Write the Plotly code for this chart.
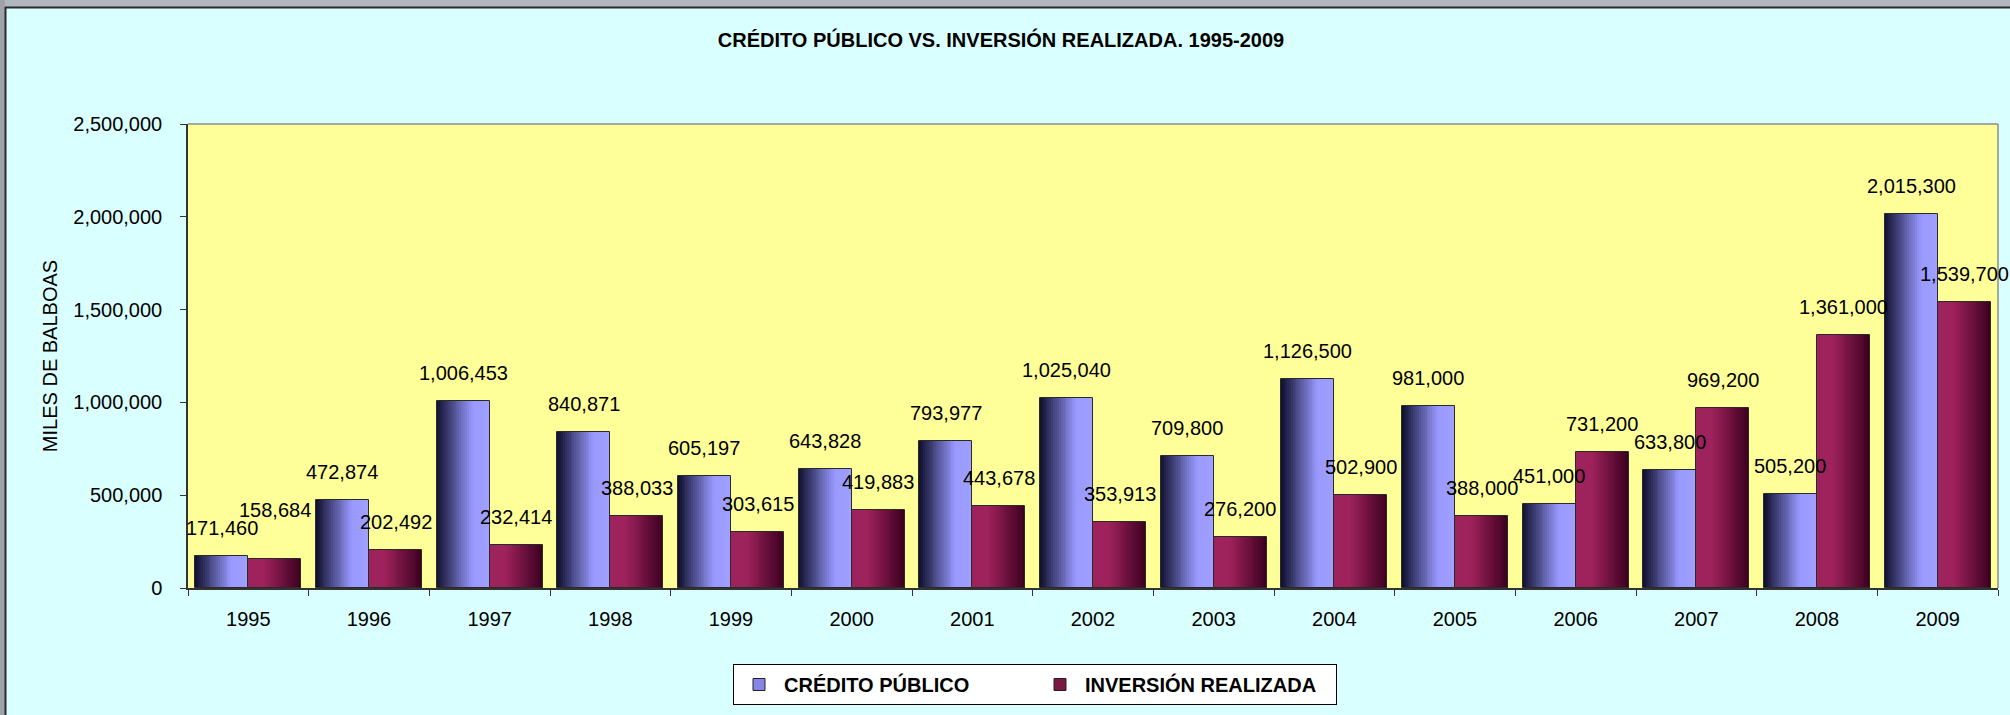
import plotly.graph_objects as go

# ---------------- data ----------------
years = ["1995", "1996", "1997", "1998", "1999", "2000", "2001", "2002",
         "2003", "2004", "2005", "2006", "2007", "2008", "2009"]
credito_publico = [171460, 472874, 1006453, 840871, 605197, 643828, 793977, 1025040,
                   709800, 1126500, 981000, 451000, 633800, 505200, 2015300]
inversion_realizada = [158684, 202492, 232414, 388033, 303615, 419883, 443678, 353913,
                       276200, 502900, 388000, 731200, 969200, 1361000, 1539700]
series_names = ["CRÉDITO PÚBLICO", "INVERSIÓN REALIZADA"]
y_ticks = [0, 500000, 1000000, 1500000, 2000000, 2500000]

# ---------------- geometry / style ----------------
W, H = 2010, 715
ML, MR, MT, MB = 188, 12, 124, 127
PW, PH = W - ML - MR, H - MT - MB

def px2x(px):
    return (px - ML) / PW

def py2y(py):
    return (H - MB - py) / PH

FONT = "Liberation Sans, Arial, sans-serif"
BAR_W = 0.44
N_SLICES = 28

def lerp(c1, c2, t):
    return tuple(round(a + (b - a) * t) for a, b in zip(c1, c2))

def blue_grad(t):
    dark, light = (14, 14, 44), (153, 153, 255)
    if t < 0.68:
        return lerp(dark, light, t / 0.68)
    return lerp(light, (160, 160, 255), (t - 0.68) / 0.32)

def red_grad(t):
    left, right = (158, 34, 92), (58, 0, 30)
    if t < 0.3:
        return left
    return lerp(left, right, (t - 0.3) / 0.7)

def rgb(c):
    return "rgb(%d,%d,%d)" % c

fig = go.Figure()

specs = [
    (credito_publico, -BAR_W, blue_grad),
    (inversion_realizada, 0.0, red_grad),
]

for values, start, grad in specs:
    for i in range(N_SLICES):
        t = (i + 0.5) / N_SLICES
        off = start + BAR_W * i / N_SLICES
        wid = BAR_W - BAR_W * i / N_SLICES
        fig.add_trace(go.Bar(
            x=years, y=values, offset=off, width=wid,
            marker=dict(color=rgb(grad(t)), line=dict(width=0)),
            showlegend=False, hoverinfo="skip",
        ))
    # outline
    fig.add_trace(go.Bar(
        x=years, y=values, offset=start, width=BAR_W,
        marker=dict(color="rgba(0,0,0,0)", line=dict(color="#2a2a2a", width=1)),
        showlegend=False, hoverinfo="skip",
    ))

# legend entries
fig.add_trace(go.Bar(x=[years[0]], y=[None], name="<b>" + series_names[0] + "</b>",
                     marker=dict(color="#8585e8", line=dict(color="#222", width=1))))
fig.add_trace(go.Bar(x=[years[0]], y=[None], name="<b>" + series_names[1] + "</b>",
                     marker=dict(color="#7a1842", line=dict(color="#222", width=1))))

# data labels
label_nudge = {(1, 0): 21}
for s, (values, start, _) in enumerate(specs):
    for i, v in enumerate(values):
        fig.add_annotation(
            x=i + start + BAR_W / 2, y=v, xref="x", yref="y",
            text=f"{v:,}", showarrow=False,
            yanchor="bottom", xanchor="center",
            yshift=15 + label_nudge.get((s, i), 0),
            font=dict(family=FONT, size=20, color="black"),
        )

shapes = [
    # plot area border (top, right)
    dict(type="line", xref="x domain", yref="y domain", x0=0, x1=1, y0=1, y1=1,
         line=dict(color="#8c8c8c", width=1.5)),
    dict(type="line", xref="x domain", yref="y domain", x0=1, x1=1, y0=0, y1=1,
         line=dict(color="#8c8c8c", width=1.5)),
    # outer screenshot strips
    dict(type="rect", xref="paper", yref="paper", x0=px2x(0), x1=px2x(W), y0=py2y(7), y1=py2y(0),
         fillcolor="#b2b6bf", line=dict(width=0), layer="above"),
    dict(type="rect", xref="paper", yref="paper", x0=px2x(0), x1=px2x(5), y0=py2y(H), y1=py2y(0),
         fillcolor="#9da2ab", line=dict(width=0), layer="above"),
    dict(type="line", xref="paper", yref="paper", x0=px2x(5), x1=px2x(W), y0=py2y(7.5), y1=py2y(7.5),
         line=dict(color="#2b2b2b", width=2), layer="above"),
    dict(type="line", xref="paper", yref="paper", x0=px2x(5.5), x1=px2x(5.5), y0=py2y(H), y1=py2y(7),
         line=dict(color="#2b2b2b", width=2), layer="above"),
]

fig.update_layout(
    width=W, height=H,
    margin=dict(l=ML, r=MR, t=MT, b=MB, autoexpand=False),
    paper_bgcolor="#DAFFFF",
    plot_bgcolor="#FFFF99",
    barmode="overlay",
    bargap=0,
    showlegend=True,
    title=dict(
        text="<b>CRÉDITO PÚBLICO VS. INVERSIÓN REALIZADA. 1995-2009</b>",
        x=0.498, xanchor="center", xref="container",
        y=1 - 40 / H, yanchor="middle", yref="container",
        font=dict(family=FONT, size=20, color="black"),
    ),
    xaxis=dict(
        type="category", range=[-0.5, 14.5],
        tickson="boundaries", ticks="outside", ticklen=6, tickcolor="#333",
        showline=True, linecolor="#333", linewidth=1.5,
        showgrid=False, zeroline=False,
        tickfont=dict(family=FONT, size=20, color="black"),
        ticklabelstandoff=12,
    ),
    yaxis=dict(
        range=[0, 2500000], tickvals=y_ticks, tickformat=",d",
        ticks="outside", ticklen=6, tickcolor="#333",
        showline=True, linecolor="#333", linewidth=1.5,
        showgrid=False, zeroline=False,
        tickfont=dict(family=FONT, size=20, color="black"),
        ticklabelstandoff=14,
        title=dict(text="MILES DE BALBOAS", standoff=10,
                   font=dict(family=FONT, size=20, color="black")),
    ),
    legend=dict(
        orientation="h",
        x=px2x(733), xanchor="left", xref="paper",
        y=py2y(664), yanchor="top", yref="paper",
        bgcolor="white", bordercolor="black", borderwidth=1,
        font=dict(family=FONT, size=20, color="black"),
        itemwidth=40,
        entrywidth=246, entrywidthmode="pixels",
        traceorder="normal",
    ),
    shapes=shapes,
)

fig.write_html(
    "out.html",
    config={"displayModeBar": False},
    post_script="document.body.style.margin='0px';document.body.style.overflow='hidden';",
)
